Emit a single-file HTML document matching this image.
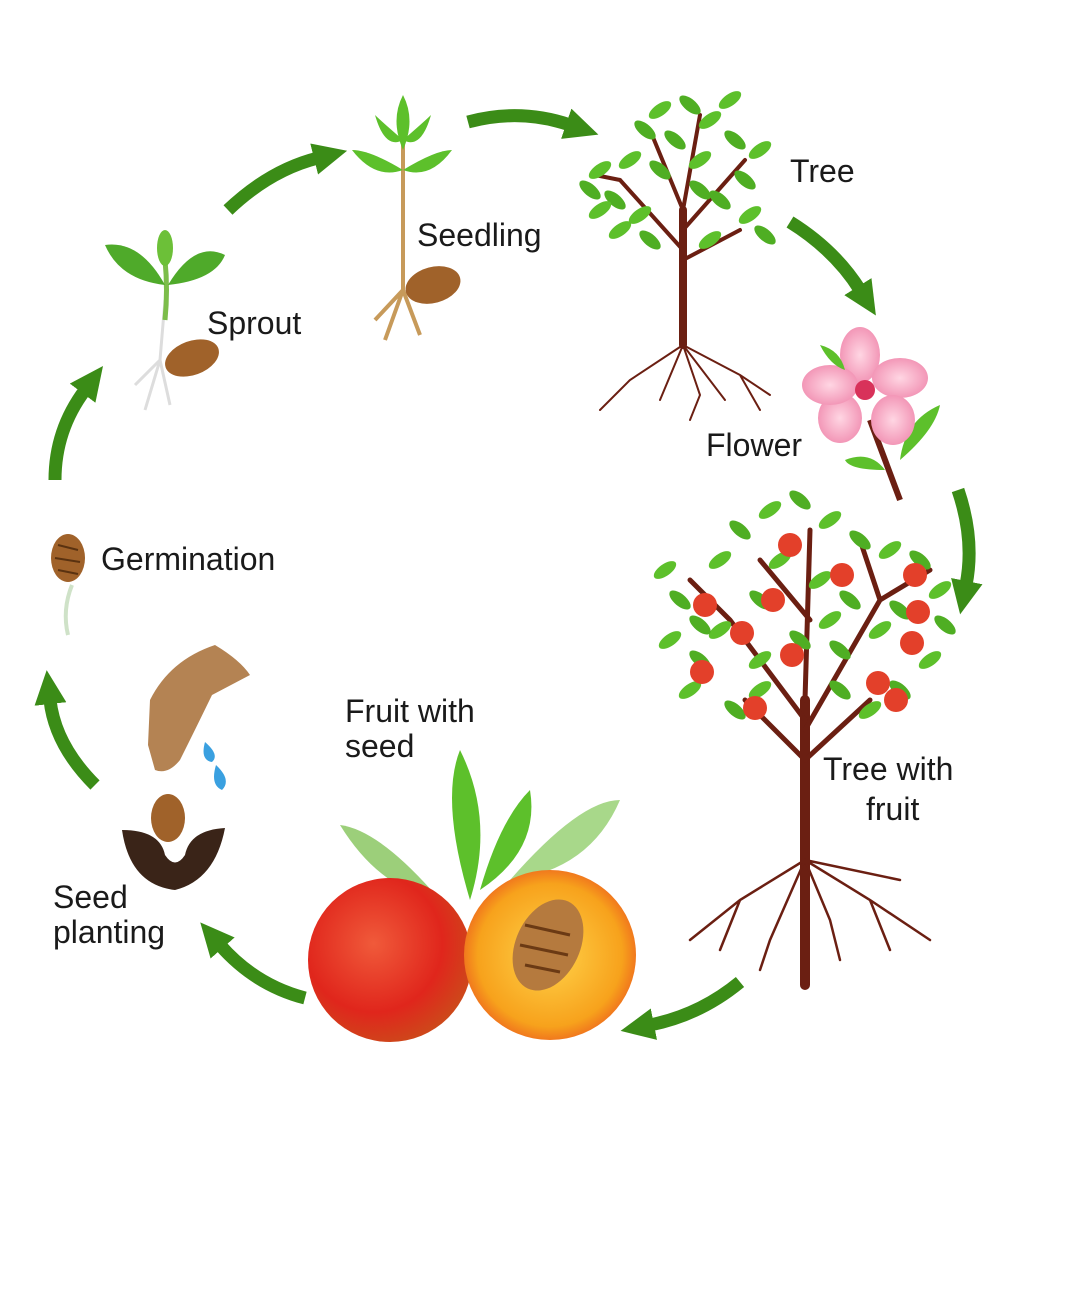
<!DOCTYPE html>
<html><head><meta charset="utf-8"><style>
html,body{margin:0;padding:0;background:#fff}
svg{display:block}
text{font-family:"Liberation Sans",sans-serif;fill:#1a1a1a;font-size:32px}
</style></head><body>
<svg width="1079" height="1306" viewBox="0 0 1079 1306">
<defs>
<marker id="ah" markerUnits="userSpaceOnUse" markerWidth="40" markerHeight="40" refX="4" refY="20" orient="auto">
<path d="M0,4 L34,20 L0,36 Z" fill="#3b8c17"/></marker>
<radialGradient id="pg" cx="0.4" cy="0.4" r="0.7"><stop offset="0" stop-color="#f05a3a"/><stop offset="0.6" stop-color="#e0261c"/><stop offset="1" stop-color="#c8521a"/></radialGradient>
<radialGradient id="hg" cx="0.5" cy="0.5" r="0.6"><stop offset="0" stop-color="#ffd34a"/><stop offset="0.7" stop-color="#f7a21c"/><stop offset="1" stop-color="#e9451e"/></radialGradient>
<radialGradient id="fl" cx="0.5" cy="0.5" r="0.6"><stop offset="0" stop-color="#ffd6e3"/><stop offset="1" stop-color="#f08aae"/></radialGradient>
<g id="lf"><ellipse rx="13" ry="6" fill="#5dc02b" transform="rotate(-35)"/></g>
<g id="lf2"><ellipse rx="13" ry="6" fill="#4fae23" transform="rotate(40)"/></g>
</defs>

<g fill="none" stroke="#3b8c17" stroke-width="13" marker-end="url(#ah)">
<path d="M228,210 Q270,170 318,158"/>
<path d="M468,122 Q520,108 570,125"/>
<path d="M790,222 Q835,250 860,290"/>
<path d="M958,490 Q975,540 966,585"/>
<path d="M740,982 Q700,1015 650,1025"/>
<path d="M305,998 Q255,985 220,945"/>
<path d="M95,785 Q55,745 50,700"/>
<path d="M55,480 Q55,430 85,390"/>
</g>

<text x="790" y="182">Tree</text>
<text x="417" y="246">Seedling</text>
<text x="207" y="334">Sprout</text>
<text x="706" y="456">Flower</text>
<text x="101" y="570">Germination</text>
<text x="345" y="722">Fruit with</text>
<text x="345" y="757">seed</text>
<text x="823" y="780">Tree with</text>
<text x="866" y="820">fruit</text>
<text x="53" y="908">Seed</text>
<text x="53" y="943">planting</text>

<path d="M72,585 Q62,610 68,635" stroke="#cfe2c8" stroke-width="4" fill="none"/>
<ellipse cx="68" cy="558" rx="17" ry="24" fill="#a0622a"/>
<path d="M58,545 L78,550 M55,558 L80,562 M58,570 L78,574" stroke="#5a3210" stroke-width="2"/>

<path d="M165,300 L160,360 M160,360 L145,410 M160,360 L170,405 M160,360 L135,385" stroke="#ddd" stroke-width="3" fill="none"/>
<path d="M165,320 Q168,290 165,260" stroke="#7cbd4a" stroke-width="5" fill="none"/>
<path d="M165,285 Q120,280 105,245 Q140,240 165,285Z" fill="#4faa2a"/>
<path d="M168,285 Q215,280 225,255 Q195,240 168,285Z" fill="#4faa2a"/>
<ellipse cx="165" cy="248" rx="8" ry="18" fill="#6cc038"/>
<ellipse cx="192" cy="358" rx="28" ry="17" fill="#a0622a" transform="rotate(-20 192 358)"/>

<path d="M403,110 L403,290 M403,290 L385,340 M403,290 L420,335 M403,290 L375,320" stroke="#c79a5a" stroke-width="4" fill="none"/>
<g fill="#5dc02b">
<path d="M403,95 Q390,120 403,150 Q416,120 403,95Z"/>
<path d="M403,170 Q370,150 352,150 Q375,180 403,170Z"/>
<path d="M403,170 Q436,150 452,150 Q430,180 403,170Z"/>
<path d="M403,140 Q380,120 375,115 Q385,150 403,140Z"/>
<path d="M403,140 Q426,120 431,115 Q421,150 403,140Z"/>
</g>
<ellipse cx="433" cy="285" rx="28" ry="18" fill="#a0622a" transform="rotate(-15 433 285)"/>

<g stroke="#6b1f12" fill="none" stroke-linecap="round">
<path d="M683,345 L683,210" stroke-width="8"/>
<path d="M683,250 L620,180 M683,230 L745,160 M683,210 L700,115 M683,210 L650,130 M683,260 L740,230 M620,180 L595,175" stroke-width="4"/>
<path d="M683,345 L630,380 L600,410 M683,345 L700,395 L690,420 M683,345 L740,375 L770,395 M683,345 L660,400 M683,345 L725,400 M630,380 L615,395 M740,375 L760,410" stroke-width="2"/>
</g>
<g>
<use href="#lf" x="600" y="170"/><use href="#lf2" x="615" y="200"/><use href="#lf" x="630" y="160"/><use href="#lf2" x="645" y="130"/><use href="#lf" x="660" y="110"/><use href="#lf2" x="690" y="105"/><use href="#lf" x="710" y="120"/><use href="#lf2" x="735" y="140"/><use href="#lf" x="760" y="150"/><use href="#lf2" x="745" y="180"/><use href="#lf" x="750" y="215"/><use href="#lf2" x="720" y="200"/><use href="#lf" x="700" y="160"/><use href="#lf2" x="660" y="170"/><use href="#lf" x="640" y="215"/><use href="#lf2" x="675" y="140"/><use href="#lf" x="600" y="210"/><use href="#lf2" x="765" y="235"/><use href="#lf" x="710" y="240"/><use href="#lf2" x="650" y="240"/><use href="#lf" x="620" y="230"/><use href="#lf2" x="700" y="190"/><use href="#lf" x="730" y="100"/><use href="#lf2" x="590" y="190"/>
</g>

<path d="M870,420 L900,500" stroke="#6b1f12" stroke-width="6"/>
<path d="M900,460 Q935,430 940,405 Q905,420 900,460Z" fill="#5dc02b"/>
<path d="M885,470 Q850,470 845,460 Q870,450 885,470Z" fill="#5dc02b"/>
<g fill="url(#fl)">
<ellipse cx="860" cy="355" rx="20" ry="28"/>
<ellipse cx="900" cy="378" rx="28" ry="20"/>
<ellipse cx="893" cy="420" rx="22" ry="25"/>
<ellipse cx="840" cy="418" rx="22" ry="25"/>
<ellipse cx="830" cy="385" rx="28" ry="20"/>
</g>
<circle cx="865" cy="390" r="10" fill="#d8325a"/>
<path d="M820,345 Q830,365 845,370 Q840,350 820,345Z" fill="#5dc02b"/>

<g stroke="#6b1f12" fill="none" stroke-linecap="round">
<path d="M805,985 L805,700" stroke-width="10"/>
<path d="M805,720 L730,620 L690,580 M805,700 L810,530 M805,730 L880,600 L930,570 M810,620 L760,560 M880,600 L860,540 M805,760 L870,700 M805,760 L745,700" stroke-width="5"/>
<path d="M805,860 L740,900 L690,940 M805,860 L830,920 L840,960 M805,860 L870,900 L930,940 M805,860 L770,940 L760,970 M805,860 L900,880 M740,900 L720,950 M870,900 L890,950" stroke-width="2.5"/>
</g>
<g>
<use href="#lf" x="665" y="570"/><use href="#lf2" x="680" y="600"/><use href="#lf" x="670" y="640"/><use href="#lf2" x="700" y="660"/><use href="#lf" x="720" y="560"/><use href="#lf2" x="740" y="530"/><use href="#lf" x="770" y="510"/><use href="#lf2" x="800" y="500"/><use href="#lf" x="830" y="520"/><use href="#lf2" x="860" y="540"/><use href="#lf" x="890" y="550"/><use href="#lf2" x="920" y="560"/><use href="#lf" x="940" y="590"/><use href="#lf2" x="945" y="625"/><use href="#lf" x="930" y="660"/><use href="#lf2" x="900" y="690"/><use href="#lf" x="870" y="710"/><use href="#lf2" x="840" y="690"/><use href="#lf" x="760" y="690"/><use href="#lf2" x="735" y="710"/><use href="#lf" x="720" y="630"/><use href="#lf2" x="760" y="600"/><use href="#lf" x="820" y="580"/><use href="#lf2" x="850" y="600"/><use href="#lf" x="880" y="630"/><use href="#lf2" x="800" y="640"/><use href="#lf" x="780" y="560"/><use href="#lf2" x="840" y="650"/><use href="#lf" x="690" y="690"/><use href="#lf2" x="700" y="625"/><use href="#lf" x="760" y="660"/><use href="#lf2" x="900" y="610"/><use href="#lf" x="830" y="620"/>
</g>
<g fill="#e3402a">
<circle cx="790" cy="545" r="12"/><circle cx="842" cy="575" r="12"/><circle cx="915" cy="575" r="12"/><circle cx="918" cy="612" r="12"/><circle cx="705" cy="605" r="12"/><circle cx="773" cy="600" r="12"/><circle cx="742" cy="633" r="12"/><circle cx="792" cy="655" r="12"/><circle cx="912" cy="643" r="12"/><circle cx="702" cy="672" r="12"/><circle cx="755" cy="708" r="12"/><circle cx="878" cy="683" r="12"/><circle cx="896" cy="700" r="12"/>
</g>

<path d="M470,900 Q440,800 460,750 Q495,820 470,900Z" fill="#5dc02b"/>
<path d="M480,890 Q500,820 530,790 Q540,850 480,890Z" fill="#5dc02b"/>
<path d="M440,900 Q380,830 340,825 Q380,890 440,900Z" fill="#9ccf7a"/>
<path d="M510,880 Q580,800 620,800 Q590,870 510,880Z" fill="#a8d88a"/>
<ellipse cx="390" cy="960" rx="82" ry="82" fill="url(#pg)"/>
<ellipse cx="550" cy="955" rx="86" ry="85" fill="url(#hg)"/>
<ellipse cx="548" cy="945" rx="32" ry="48" fill="#b57a3e" transform="rotate(25 548 945)"/>
<path d="M525,925 L570,935 M520,945 L568,955 M525,965 L560,972" stroke="#6b3a14" stroke-width="3"/>

<path d="M215,645 Q240,660 250,675 L212,695 Q195,730 180,760 Q168,775 155,770 L148,745 L150,700 Q170,660 215,645Z" fill="#b48353"/>
<path d="M205,742 Q200,760 212,762 Q220,755 205,742Z M216,765 Q210,785 222,790 Q232,780 216,765Z" fill="#3aa0e0"/>
<path d="M122,830 Q160,830 165,855 Q175,870 185,855 Q190,830 225,828 Q215,880 175,890 Q130,885 122,830Z" fill="#3a2418"/>
<ellipse cx="168" cy="818" rx="17" ry="24" fill="#a0622a"/>
</svg>
</body></html>
